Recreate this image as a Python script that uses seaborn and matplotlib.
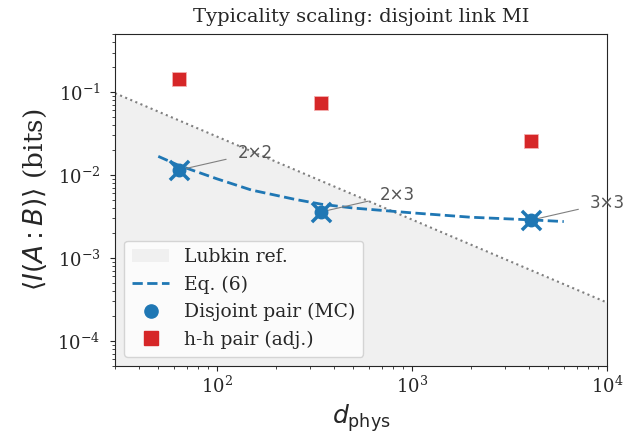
import numpy as np
import pandas as pd
import seaborn as sns
import matplotlib.pyplot as plt
from matplotlib.patches import Patch
from matplotlib.lines import Line2D

#%% data
d_mc = [64, 343, 4096]
mi_disjoint = [0.0115, 0.0036, 0.00287]
mi_hh = [0.142, 0.0743, 0.0259]
size_labels = ['2×2', '2×3', '3×3']

eq6_d = [50, 64, 100, 150, 250, 343, 500, 1000, 2000, 4096, 6000]
eq6_mi = [0.0168, 0.0130, 0.0090, 0.0066, 0.0051, 0.00445, 0.0040, 0.0035, 0.0031, 0.00288, 0.00275]

lubkin_d = [30, 1e4]
lubkin_mi = [0.097, 2.9e-4]

#%% style
sns.set_style('ticks')
plt.rcParams['font.family'] = ['DejaVu Serif']
plt.rcParams['mathtext.fontset'] = 'dejavusans'

blue = '#1f77b4'
red = '#d62728'
ylo, yhi = 5e-5, 0.5

fig, ax = plt.subplots(figsize=(6.39, 4.43), dpi=100)
fig.subplots_adjust(left=0.18, right=0.95, top=0.923, bottom=0.174)

# Lubkin reference: shaded region + dotted line
ax.fill_between(lubkin_d, lubkin_mi, ylo, color='#f0f0f0', lw=0)
sns.lineplot(x=lubkin_d, y=lubkin_mi, ax=ax, color='gray', lw=1.5, linestyle=':')

# Eq. (6)
sns.lineplot(x=eq6_d, y=eq6_mi, ax=ax, color=blue, lw=2, linestyle='--')

# Monte Carlo points
sns.scatterplot(x=d_mc, y=mi_disjoint, ax=ax, color=blue, marker='x', s=190,
                linewidth=2.5, zorder=4)
sns.scatterplot(x=d_mc, y=mi_disjoint, ax=ax, color=blue, marker='o', s=100,
                linewidth=0, zorder=5)
sns.scatterplot(x=d_mc, y=mi_hh, ax=ax, color=red, marker='s', s=115,
                edgecolor='#f4b0b0', linewidth=0.6, zorder=5)

for lab, d, mi in zip(size_labels, d_mc, mi_disjoint):
    ax.annotate(lab, xy=(d, mi), xytext=(42, 6), textcoords='offset points',
                ha='left', va='bottom', fontsize=12, color='#555555',
                family='DejaVu Sans',
                arrowprops=dict(arrowstyle='-', color='gray', lw=0.8,
                                shrinkA=6, shrinkB=4))

ax.set_xscale('log')
ax.set_yscale('log')
ax.set_xlim(30, 1e4)
ax.set_ylim(ylo, yhi)
ax.tick_params(labelsize=13)
ax.tick_params(axis='y', which='major', pad=7)
ax.set_xlabel(r'$d_{\rm phys}$', fontsize=18)
ax.set_ylabel(r'$\langle I(A:B)\rangle$ (bits)', fontsize=19, labelpad=6)
ax.set_title('Typicality scaling: disjoint link MI', fontsize=14, pad=9)

handles = [Patch(facecolor='#f0f0f0', edgecolor='none', label='Lubkin ref.'),
           Line2D([], [], color=blue, lw=2, ls='--', label='Eq. (6)'),
           Line2D([], [], color=blue, marker='o', ms=9.5, ls='none', label='Disjoint pair (MC)'),
           Line2D([], [], color=red, marker='s', ms=10, ls='none', label='h-h pair (adj.)')]
ax.legend(handles=handles, loc='lower left', fontsize=13.5)

fig.savefig('out.png', dpi=100)
